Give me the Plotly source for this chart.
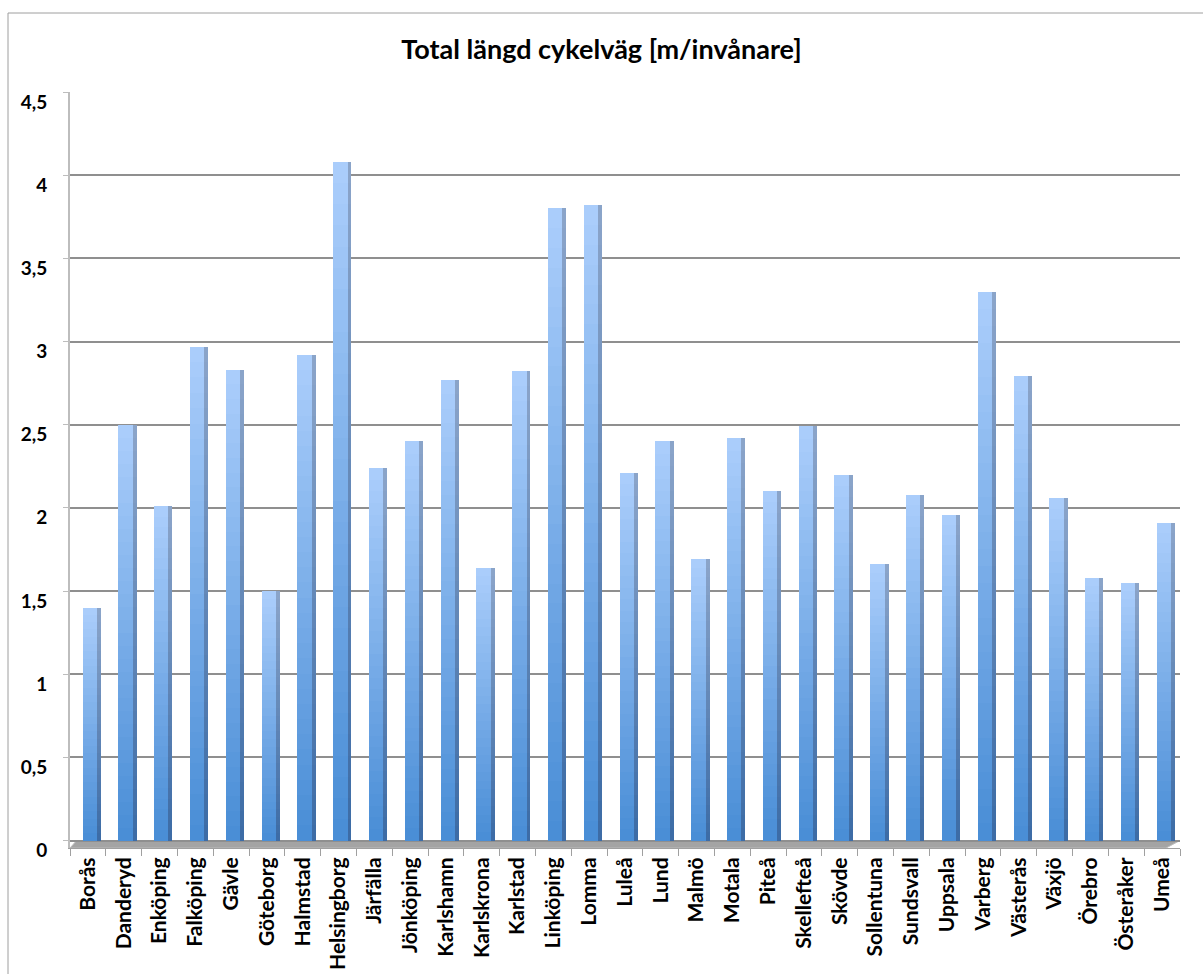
import plotly.graph_objects as go

cities = ["Borås", "Danderyd", "Enköping", "Falköping", "Gävle", "Göteborg", "Halmstad",
          "Helsingborg", "Järfälla", "Jönköping", "Karlshamn", "Karlskrona", "Karlstad",
          "Linköping", "Lomma", "Luleå", "Lund", "Malmö", "Motala", "Piteå", "Skellefteå",
          "Skövde", "Sollentuna", "Sundsvall", "Uppsala", "Varberg", "Västerås", "Växjö",
          "Örebro", "Österåker", "Umeå"]
values = [1.40, 2.50, 2.01, 2.97, 2.83, 1.50, 2.92,
          4.08, 2.24, 2.40, 2.77, 1.64, 2.82,
          3.80, 3.82, 2.21, 2.40, 1.69, 2.42, 2.10, 2.49,
          2.20, 1.66, 2.08, 1.96, 3.30, 2.79, 2.06,
          1.58, 1.55, 1.91]
y_ticks = [0, 0.5, 1, 1.5, 2, 2.5, 3, 3.5, 4, 4.5]
y_tick_labels = ["0", "0,5", "1", "1,5", "2", "2,5", "3", "3,5", "4", "4,5"]
title_text = "Total längd cykelväg [m/invånare]"

FONT = "Lato, 'Open Sans', sans-serif"
W, H = 1203, 974
L, R, T, B = 70, 23, 92, 126


def lerp(c1, c2, t):
    a = [int(c1[i:i + 2], 16) for i in (1, 3, 5)]
    b = [int(c2[i:i + 2], 16) for i in (1, 3, 5)]
    return "rgb(%d,%d,%d)" % tuple(round(a[k] + (b[k] - a[k]) * t) for k in range(3))


fig = go.Figure()
N = 32
# front faces with vertical gradient (light top -> darker bottom)
for k in range(N):
    f = 1 - k / N
    fig.add_trace(go.Bar(
        x=cities, y=[v * f for v in values],
        width=0.40, offset=-0.15,
        marker=dict(color=lerp("#aacdfb", "#4a8ed6", k / (N - 1)), line=dict(width=0)),
        hoverinfo="skip" if k else None, showlegend=False,
    ))
# side faces (darker)
for k in range(N):
    f = 1 - k / N
    fig.add_trace(go.Bar(
        x=cities, y=[v * f for v in values],
        width=0.11, offset=0.25,
        marker=dict(color=lerp("#8aa4c9", "#3d6ca6", k / (N - 1)), line=dict(width=0)),
        hoverinfo="skip", showlegend=False,
    ))

shapes = [
    # floor
    dict(type="path", xref="paper", yref="y",
         path="M 0,-0.045 L 0.9875,-0.045 L 1,0 L 0.006,0 Z",
         fillcolor="#a4a4a4", line=dict(color="#bdbdbd", width=1), layer="below"),
    # outer frame
    dict(type="rect", xref="paper", yref="paper",
         x0=(8 - L) / (W - L - R), x1=(W + 20 - L) / (W - L - R),
         y0=-(H + 20 - (H - B)) / (H - T - B), y1=1 + (T - 13) / (H - T - B),
         line=dict(color="#9e9e9e", width=1), fillcolor="rgba(0,0,0,0)"),
]

fig.update_layout(
    width=W, height=H,
    margin=dict(l=L, r=R, t=T, b=B),
    paper_bgcolor="white", plot_bgcolor="white",
    barmode="overlay", bargap=0,
    showlegend=False,
    shapes=shapes,
    title=dict(text=title_text, x=0.5, xanchor="center", xref="container",
               y=1 - 50 / H, yanchor="middle", yref="container",
               font=dict(family=FONT, size=27, color="black", weight="bold")),
    font=dict(family=FONT, color="black"),
)
fig.update_xaxes(
    type="category", categoryorder="array", categoryarray=cities,
    showgrid=False, showline=True, linecolor="#a0a0a0", linewidth=1,
    ticks="outside", tickson="boundaries", ticklen=7, tickcolor="#a0a0a0",
    tickangle=-90, tickfont=dict(family=FONT, size=21, color="black", weight="bold"),
    automargin=False, zeroline=False, range=[-0.5, len(cities) - 0.5],
)
fig.update_yaxes(
    range=[-0.045, 4.5], tickvals=y_ticks, ticktext=y_tick_labels,
    showgrid=True, gridcolor="#8f8f8f", gridwidth=1.5,
    showline=True, linecolor="#bdbdbd", linewidth=2,
    ticks="outside", ticklen=5, tickcolor="#bdbdbd", ticklabelstandoff=12,
    ticklabelshift=10,
    tickfont=dict(family=FONT, size=19, color="black", weight="bold"),
    zeroline=False, automargin=False,
)

fig.write_html("out.html")
